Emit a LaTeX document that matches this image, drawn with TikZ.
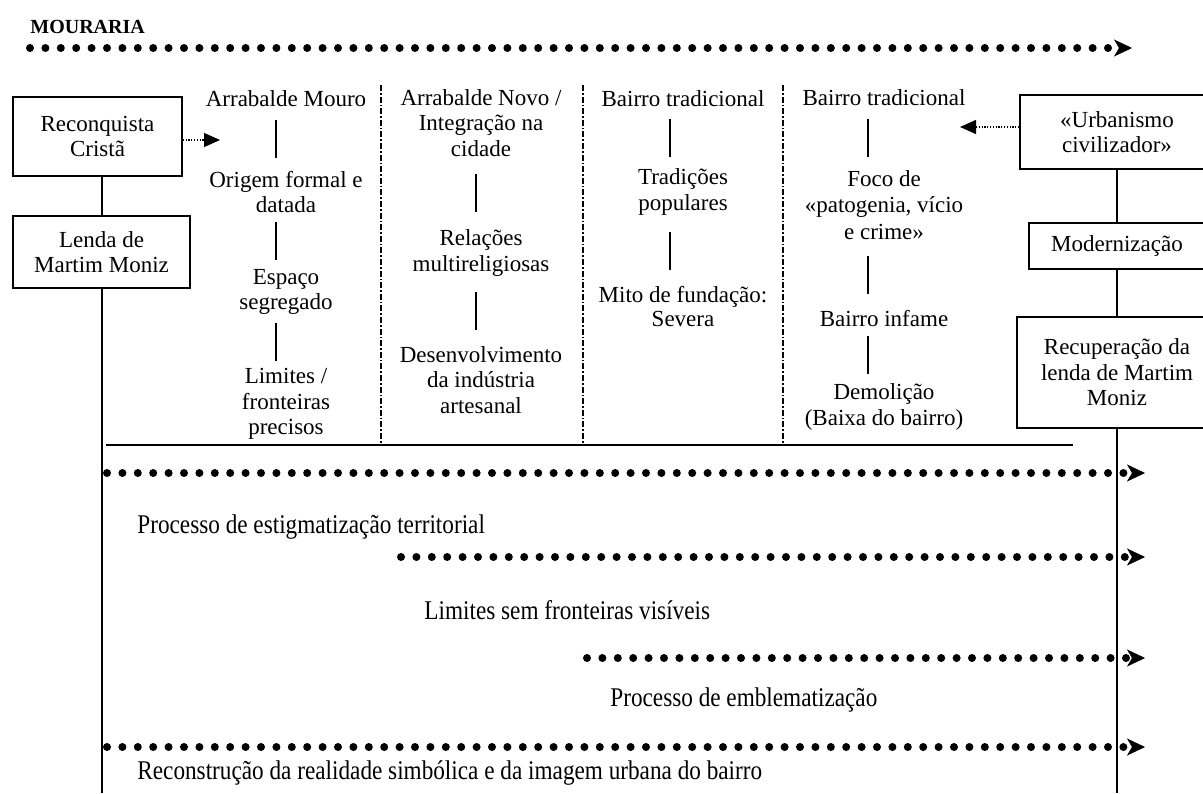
\documentclass[tikz,border=0pt]{standalone}
\usepackage{fontspec}
\setmainfont{Liberation Serif}
\newfontfamily\estreita[FakeStretch=0.86]{Liberation Serif}
\usetikzlibrary{arrows.meta, calc}

\begin{document}
\begin{tikzpicture}[x=0.5pt, y=-0.5pt]
  \tikzstyle{texte}=[align=center, inner sep=0, font=\fontsize{11.5}{12.8}\selectfont];
  \tikzstyle{boite}=[texte, draw, line width=0.8pt];
  \tikzstyle{trait}=[line width=0.75pt];
  \tikzstyle{pointille}=[line width=4pt, line cap=round, dash pattern=on 0pt off 7.7pt,
    -{Stealth[length=9pt, width=8.5pt, inset=2.5pt, line width=0.3pt]}];
  \tikzstyle{fleche}=[line width=0.6pt, dash pattern=on 0.6pt off 0.8pt,
    -{Triangle[length=8pt, width=7pt]}];
  \tikzstyle{separateur}=[line width=0.9pt, dash pattern=on 3pt off 1pt on 0.8pt off 1pt];
  \tikzstyle{legende}=[anchor=west, inner sep=0, font=\estreita\fontsize{13.5}{15}\selectfont];

  \useasboundingbox (0,0) rectangle (1203,793);

  % titre
  \node[texte, anchor=base west, font=\bfseries\fontsize{10}{12}\selectfont] (titre) at (30,33) {MOURARIA};
  \coordinate (T0) at (30,48);
  \coordinate (T1) at (1132,48);
  \draw[pointille] (T0) -- (T1);

  % gauche
  \node[boite, minimum width=84.5pt, minimum height=39.5pt] (R) at (97.5,136.5) {Reconquista\\Cristã};
  \node[boite, minimum width=88.5pt, minimum height=36pt] (L) at (101.5,252) {Lenda de\\Martim Moniz};
  \coordinate (E) at (102,793);
  \draw[trait] (R.south -| E) -- (L.north -| E);
  \draw[trait] (L.south -| E) -- (E);
  \coordinate (R1) at (220,140);
  \draw[fleche] (R.east |- R1) -- (R1);

  % droite
  \node[boite, minimum width=97pt, minimum height=37pt] (U) at (1117,132) {«Urbanismo\\civilizador»};
  \node[boite, minimum width=88pt, minimum height=23pt] (M) at (1117,246) {Modernização};
  \node[boite, minimum width=100pt, minimum height=55.5pt] (P) at (1117,372.5) {Recuperação da\\lenda de Martim\\Moniz};
  \coordinate (F) at (1117,793);
  \draw[trait] (U.south) -- (M.north);
  \draw[trait] (M.south) -- (P.north);
  \draw[trait] (P.south) -- (F);
  \coordinate (U1) at (960,127);
  \draw[fleche] (U.west |- U1) -- (U1);

  % colonnes
  \node[texte] (A1) at (286,99) {Arrabalde Mouro};
  \node[texte] (A2) at (286,192) {Origem formal e\\datada};
  \node[texte] (A3) at (286,292) {Espaço\\segregado};
  \node[texte] (A4) at (286,404) {Limites /\\fronteiras\\precisos};
  \node[texte] (B1) at (481,123) {Arrabalde Novo /\\Integração na\\cidade};
  \node[texte] (B2) at (481,253) {Relações\\multireligiosas};
  \node[texte] (B3) at (481,380) {Desenvolvimento\\da indústria\\artesanal};
  \node[texte] (C1) at (683,99) {Bairro tradicional};
  \node[texte] (C2) at (683,192) {Tradições\\populares};
  \node[texte, font=\fontsize{11.5}{12}\selectfont] (C3) at (683,307) {Mito de fundação:\\Severa};
  \node[texte] (D1) at (884,98) {Bairro tradicional};
  \node[texte, font=\fontsize{11.5}{13.4}\selectfont] (D2) at (884,205) {Foco de\\«patogenia, vício\\e crime»};
  \node[texte] (D3) at (884,319) {Bairro infame};
  \node[texte] (D4) at (884,407) {Demolição\\(Baixa do bairro)};

  \foreach \S/\T/\d in {A1/A2/-10, A2/A3/-10, A3/A4/-10, B1/B2/-5, B2/B3/-5,
                        C1/C2/-13, C2/C3/-13, D1/D2/-16, D2/D3/-16, D3/D4/-16} {
    \draw[trait] ($(\S.south)!.5!(\T.north)+(\d,-19)$) -- ++(0,38);
  }

  % separateurs
  \foreach \x in {381, 583, 783} {
    \draw[separateur] (\x,85) -- (\x,445);
  }
  \coordinate (H0) at (106,445);
  \coordinate (H1) at (1073,445);
  \draw[trait] (H0) -- (H1);

  % processus
  \foreach \n/\x/\y in {1/107/473, 2/401/557, 3/587/658, 4/107/747} {
    \coordinate (p\n) at (\x,\y);
    \coordinate (q\n) at (1145,\y);
    \draw[pointille] (p\n) -- (q\n);
  }
  \node[legende] (G1) at (137,527) {Processo de estigmatização territorial};
  \node[legende] (G2) at (424,610) {Limites sem fronteiras visíveis};
  \node[legende] (G3) at (610,700) {Processo de emblematização};
  \node[legende] (G4) at (137,773) {Reconstrução da realidade simbólica e da imagem urbana do bairro};
\end{tikzpicture}
\end{document}
